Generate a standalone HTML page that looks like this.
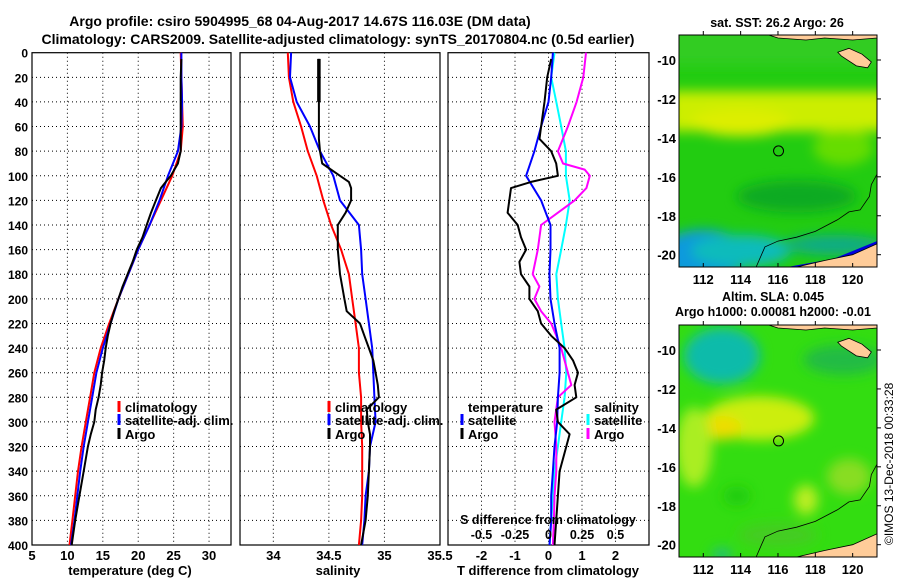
<!DOCTYPE html>
<html><head><meta charset="utf-8">
<style>
html,body{margin:0;padding:0;background:#fff;}
svg text{font-family:"Liberation Sans",Arial,sans-serif;font-weight:bold;fill:#000;}
</style></head>
<body>
<svg id="fig" width="900" height="580" viewBox="0 0 900 580" xmlns="http://www.w3.org/2000/svg">
<defs>
<filter id="blur6" x="-50%" y="-50%" width="200%" height="200%"><feGaussianBlur stdDeviation="6"/></filter>
<clipPath id="clipMap1"><rect x="679" y="35" width="198" height="232"/></clipPath>
<clipPath id="clipMap2"><rect x="679" y="325" width="198" height="232"/></clipPath>
</defs>
<text x="300" y="26" font-size="14" text-anchor="middle">Argo profile: csiro 5904995_68 04-Aug-2017 14.67S 116.03E (DM data)</text>
<text x="338" y="44" font-size="14" text-anchor="middle">Climatology: CARS2009. Satellite-adjusted climatology: synTS_20170804.nc (0.5d earlier)</text>
<g id="g"></g>
<text x="0" y="0" font-size="12" transform="translate(893,545) rotate(-90)" style="font-weight:normal">©IMOS 13-Dec-2018 00:33:28</text>
</svg>
<script>
// ---- data (depth in m) ----
const depths = [0,20,40,60,80,100,120,140,160,180,200,220,240,260,280,300,320,340,360,380,400];
const tClim = [26.0,26.1,26.2,26.3,26.0,24.8,23.2,21.6,20.0,18.6,17.2,15.9,14.7,13.8,13.2,12.6,12.0,11.5,11.1,10.7,10.3];
const tSat  = [26.1,26.1,26.2,26.1,25.6,24.2,23.0,21.6,20.0,18.6,17.2,16.1,15.0,14.1,13.5,12.9,12.3,11.8,11.4,11.0,10.5];
const argoDepths = [5,20,40,60,70,80,90,100,105,110,120,130,140,150,160,170,180,190,200,210,220,230,240,250,260,270,280,290,300,310,320,340,360,380,400];
const tArgo = [26.1,26.0,26.0,26.0,26.0,26.0,25.6,24.6,23.9,23.2,22.5,21.8,21.2,20.6,19.8,19.2,18.5,17.8,17.2,16.6,16.1,15.7,15.4,15.2,14.9,14.7,14.4,14.0,13.8,13.3,12.9,12.3,11.7,11.1,10.6];
const sClim = [34.13,34.14,34.18,34.25,34.31,34.39,34.45,34.52,34.61,34.68,34.71,34.74,34.77,34.77,34.79,34.79,34.80,34.80,34.80,34.79,34.77];
const sSat  = [34.16,34.15,34.21,34.33,34.42,34.54,34.60,34.77,34.79,34.80,34.83,34.86,34.89,34.90,34.91,34.92,34.87,34.86,34.83,34.82,34.80];
const sArgo = [34.41,34.41,34.41,34.41,34.41,34.42,34.44,34.60,34.68,34.70,34.70,34.65,34.58,34.58,34.58,34.59,34.60,34.62,34.64,34.66,34.78,34.82,34.86,34.90,34.92,34.94,34.95,34.84,34.85,34.87,34.87,34.86,34.85,34.83,34.79];
const dtSat = [0.13,0.08,0.0,-0.22,-0.42,-0.67,-0.22,0.06,0.06,0.03,0.06,0.18,0.33,0.33,0.28,0.26,0.18,0.13,0.08,0.08,0.03];
const dtArgo = [0.08,-0.04,-0.12,-0.22,-0.27,0.08,0.23,0.28,-0.52,-1.12,-1.17,-1.22,-0.92,-0.82,-0.67,-0.87,-0.82,-0.57,-0.57,-0.32,-0.22,0.08,0.48,0.73,0.88,0.78,0.83,0.23,0.28,0.63,0.53,0.33,0.28,0.23,0.18];
const dsSat = [0.045,0.02,0.058,0.095,0.13,0.13,0.158,0.13,0.095,0.058,0.07,0.095,0.12,0.133,0.12,0.095,0.07,0.045,0.033,0.02,0.008];
const dsArgoDepths = [0,20,40,60,80,90,95,100,110,120,130,140,160,180,190,200,210,220,230,240,260,270,280,300,320,340,360,380,400];
const dsArgo = [0.28,0.26,0.21,0.145,0.07,0.108,0.27,0.308,0.283,0.195,0.07,-0.055,-0.08,-0.118,-0.068,-0.105,-0.055,0.02,0.058,0.095,0.145,0.17,0.07,0.045,0.058,0.058,0.045,0.04,0.033];
const tTicks = [5,10,15,20,25,30];
const sTicks = [34,34.5,35,35.5];
const dTicks = [-2,-1,0,1,2];
const dsTickLabels = ["-0.5","-0.25","0","0.25","0.5"];
const dsTickVals = [-0.5,-0.25,0,0.25,0.5];
const depthTicks = [0,20,40,60,80,100,120,140,160,180,200,220,240,260,280,300,320,340,360,380,400];
const lonTicks = [112,114,116,118,120];
const latTicks = [-10,-12,-14,-16,-18,-20];
const argoLon = 116.03, argoLat = -14.67;

// ---- axes ----
const TOP=52.7, BOT=545;
const yD = d => TOP + d*(BOT-TOP)/400;
const P1={x0:32,x1:231,min:5,max:33.1};
const P2={x0:240,x1:440,min:33.7,max:35.5};
const P3={x0:448,x1:649,min:-3,max:3};
const sx = (p,v) => p.x0 + (v-p.min)*(p.x1-p.x0)/(p.max-p.min);
const NS="http://www.w3.org/2000/svg";
const G=document.getElementById('g');
function mk(tag,attrs,parent){const e=document.createElementNS(NS,tag);for(const k in attrs)e.setAttribute(k,attrs[k]);(parent||G).appendChild(e);return e;}
function txt(s,x,y,size,anchor){const t=mk('text',{x:x,y:y,'font-size':size,'text-anchor':anchor||'middle'});t.textContent=s;return t;}

function panelFrame(p,name,ticks,fmt){
  const grp=mk('g',{});
  
  
  depthTicks.forEach(d=>{ if(d>0&&d<400){const l=mk('line',{x1:p.x0,x2:p.x1,y1:yD(d),y2:yD(d),stroke:'#000','stroke-width':1,'stroke-dasharray':'1,3'},grp);
     }});
  ticks.forEach(v=>{const x=sx(p,v); if(x>p.x0+1&&x<p.x1-1){const l=mk('line',{x1:x,x2:x,y1:TOP,y2:BOT,stroke:'#000','stroke-width':1,'stroke-dasharray':'1,3'},grp);
     }
    const t=txt(fmt(v),x,560,13);  });
  const r=mk('rect',{x:p.x0,y:TOP,width:p.x1-p.x0,height:BOT-TOP,fill:'none',stroke:'#000','stroke-width':1.2},grp);
  
  
  return grp;
}
function line(p,xs,ds,color,w,name){
  const pts=xs.map((v,i)=>sx(p,v).toFixed(1)+','+yD(ds[i]).toFixed(1)).join(' ');
  const pl=mk('polyline',{points:pts,fill:'none',stroke:color,'stroke-width':w,'stroke-linejoin':'round'});
  
  
  return pl;
}
function legendEntry(x,y,color,label,name){
  const b=mk('line',{x1:x,x2:x,y1:y-11,y2:y,stroke:color,'stroke-width':3});
  
  
  const t=txt(label,x+6,y,13,'start');
  
  
}

// depth labels
depthTicks.forEach(d=>{const t=txt(String(d),28,yD(d)+5,12,'end');
   });

// panel 1 temperature
panelFrame(P1,'temperature',tTicks,v=>String(v));
line(P1,tClim,depths,'#ff0000',2,'temperature-climatology-line');
line(P1,tSat,depths,'#0000ff',2,'temperature-satellite-line');
line(P1,tArgo,argoDepths,'#000000',2,'temperature-argo-line');
let t1=txt('temperature (deg C)',130,575,13);  
legendEntry(119,412,'#ff0000','climatology','legend-temp-climatology');
legendEntry(119,425,'#0000ff','satellite-adj. clim.','legend-temp-satellite');
legendEntry(119,439,'#000000','Argo','legend-temp-argo');

// panel 2 salinity
panelFrame(P2,'salinity',sTicks,v=>String(v));
line(P2,sClim,depths,'#ff0000',2,'salinity-climatology-line');
line(P2,sSat,depths,'#0000ff',2,'salinity-satellite-line');
line(P2,sArgo.slice(0,3),argoDepths.slice(0,3),'#000000',3.5,'salinity-argo-mixed-layer');
line(P2,sArgo,argoDepths,'#000000',2,'salinity-argo-line');
let t2=txt('salinity',338,575,13);  
legendEntry(329,412,'#ff0000','climatology','legend-sal-climatology');
legendEntry(329,425,'#0000ff','satellite-adj. clim.','legend-sal-satellite');
legendEntry(329,439,'#000000','Argo','legend-sal-argo');

// panel 3 differences
panelFrame(P3,'difference',dTicks,v=>String(v));
const dsToT = v => v*4;
line(P3,dsSat.map(dsToT),depths,'#00ffff',2,'salinity-diff-satellite-line');
line(P3,dsArgo.map(dsToT),dsArgoDepths,'#ff00ff',2,'salinity-diff-argo-line');
line(P3,dtSat,depths,'#0000ff',2,'temperature-diff-satellite-line');
line(P3,dtArgo,argoDepths,'#000000',2,'temperature-diff-argo-line');
let t3=txt('T difference from climatology',548,575,13);  
let t4=txt('S difference from climatology',548,524,12.5);  
dsTickVals.forEach((v,i)=>{const t=txt(dsTickLabels[i],sx(P3,v*4),539,12.5);
   });
let lt=txt('temperature',468,412,13,'start');  
legendEntry(462,425,'#0000ff','satellite','legend-tdiff-satellite');
legendEntry(462,439,'#000000','Argo','legend-tdiff-argo');
let ls=txt('salinity',594,412,13,'start');  
legendEntry(588,425,'#00ffff','satellite','legend-sdiff-satellite');
legendEntry(588,439,'#ff00ff','Argo','legend-sdiff-argo');

// ---- maps ----
function drawMap(y0,clipId,kind,name){
  const mx0=679,mx1=877,my1=y0+232;
  const lx = lon => 703.3 + (lon-112)*18.67;
  const ly = lat => y0+25 + (-lat-10)*19.47;
  const grp=mk('g',{});
  
  
  const inner=mk('g',{'clip-path':'url(#'+clipId+')'},grp);
  if(kind==='sst'){
    mk('rect',{x:mx0,y:y0,width:198,height:232,fill:'#22cc11'},inner);
    const bl=mk('g',{filter:'url(#blur6)'},inner);
    mk('rect',{x:mx0-10,y:ly(-11.6),width:220,height:40,fill:'#ccee00'},bl);
    mk('ellipse',{cx:lx(114),cy:ly(-13.2),rx:50,ry:14,fill:'#ddee00'},bl);
    mk('rect',{x:mx0-10,y:y0-10,width:220,height:40,fill:'#33cc22'},bl);
    mk('ellipse',{cx:lx(112),cy:ly(-20),rx:45,ry:25,fill:'#1199dd'},bl);
    mk('ellipse',{cx:lx(114),cy:ly(-19.8),rx:50,ry:16,fill:'#11bbbb'},bl);
    mk('ellipse',{cx:lx(119),cy:ly(-19.5),rx:50,ry:10,fill:'#11aa88'},bl);
    mk('ellipse',{cx:lx(117),cy:ly(-17),rx:60,ry:16,fill:'#11aa22'},bl);
    mk('ellipse',{cx:lx(119.5),cy:ly(-14.5),rx:30,ry:18,fill:'#66dd00'},bl);
    mk('polygon',{points:`${lx(116.5)},${my1} ${lx(119)},${ly(-20.2)} ${lx(121.3)},${ly(-19.3)} ${mx1},${ly(-19)} ${mx1},${my1}`,fill:'#0000dd'},inner);
  } else {
    mk('rect',{x:mx0,y:y0,width:198,height:232,fill:'#33dd11'},inner);
    const bl=mk('g',{filter:'url(#blur6)'},inner);
    mk('ellipse',{cx:lx(113),cy:ly(-10.3),rx:38,ry:28,fill:'#11bbaa'},bl);
    mk('ellipse',{cx:lx(115),cy:ly(-13.5),rx:55,ry:22,fill:'#ccee11'},bl);
    mk('ellipse',{cx:lx(113),cy:ly(-14),rx:20,ry:12,fill:'#eedd00'},bl);
    mk('ellipse',{cx:lx(111.5),cy:ly(-15),rx:18,ry:40,fill:'#aaee22'},bl);
    mk('ellipse',{cx:lx(117.5),cy:ly(-17.7),rx:12,ry:15,fill:'#bbee22'},bl);
    mk('ellipse',{cx:lx(119.5),cy:ly(-10.5),rx:40,ry:15,fill:'#22bb44'},bl);
    mk('ellipse',{cx:lx(119.8),cy:ly(-16.5),rx:22,ry:18,fill:'#88dd22'},bl);
    mk('ellipse',{cx:lx(113.8),cy:ly(-17.5),rx:14,ry:10,fill:'#22cc11'},bl);
    mk('ellipse',{cx:lx(116),cy:ly(-19.5),rx:40,ry:12,fill:'#44cc22'},bl);
    mk('ellipse',{cx:lx(113),cy:ly(-20.5),rx:10,ry:6,fill:'#22bb88'},bl);
  }
  const land='#ffcc99';
  mk('polygon',{points:`${lx(115.5)},${y0} ${lx(116)},${y0+3} ${lx(117.5)},${y0+5} ${lx(118.5)},${y0+3} ${lx(120)},${y0+5} ${mx1},${y0+3} ${mx1},${y0}`,fill:land,stroke:'#000','stroke-width':0.8},inner);
  mk('polygon',{points:`${lx(119.2)},${ly(-9.6)} ${lx(119.8)},${ly(-9.4)} ${lx(120.5)},${ly(-9.7)} ${lx(121)},${ly(-10.1)} ${lx(120.8)},${ly(-10.4)} ${lx(120.2)},${ly(-10.3)} ${lx(119.4)},${ly(-9.8)}`,fill:land,stroke:'#000','stroke-width':0.8},inner);
  mk('polygon',{points:`${lx(117)},${my1} ${lx(118.5)},${ly(-20.3)} ${lx(120)},${ly(-20)} ${lx(121.4)},${ly(-19.4)} ${mx1},${my1}`,fill:land,stroke:'#000','stroke-width':0.8},inner);
  const c=mk('polyline',{points:[[114.8,-20.7],[115.3,-19.6],[116,-19.3],[117,-19.1],[118,-18.8],[119.2,-18.2],[119.8,-17.8],[120.4,-17.7],[120.9,-17],[121,-16.4],[121.4,-15.7]].map(p=>lx(p[0])+','+ly(p[1])).join(' '),fill:'none',stroke:'#000','stroke-width':0.8},inner);
   
  const m=mk('circle',{cx:lx(argoLon),cy:ly(argoLat),r:5,fill:'none',stroke:'#000','stroke-width':1},grp);
   
  const fr=mk('rect',{x:mx0,y:y0,width:198,height:232,fill:'none',stroke:'#000','stroke-width':1},grp);
   
  lonTicks.forEach(v=>{mk('line',{x1:lx(v),x2:lx(v),y1:y0,y2:y0-4,stroke:'#000'},grp);mk('line',{x1:lx(v),x2:lx(v),y1:my1,y2:my1-4,stroke:'#000'},grp);
    const t=txt(String(v),lx(v),my1+17,13);  });
  latTicks.forEach(v=>{mk('line',{x1:mx1,x2:mx1+4,y1:ly(v),y2:ly(v),stroke:'#000'},grp);
    const t=txt(String(v),676,ly(v)+5,13,'end');  });
}
drawMap(35,'clipMap1','sst','sst-map');
drawMap(325,'clipMap2','sla','sla-map');
let m1=txt('sat. SST: 26.2 Argo: 26',777,27,12.5);  
let m2=txt('Altim. SLA: 0.045',773,301,12.5);  
let m3=txt('Argo h1000: 0.00081 h2000: -0.01',773,316,12.5);  
</script>
</body></html>
